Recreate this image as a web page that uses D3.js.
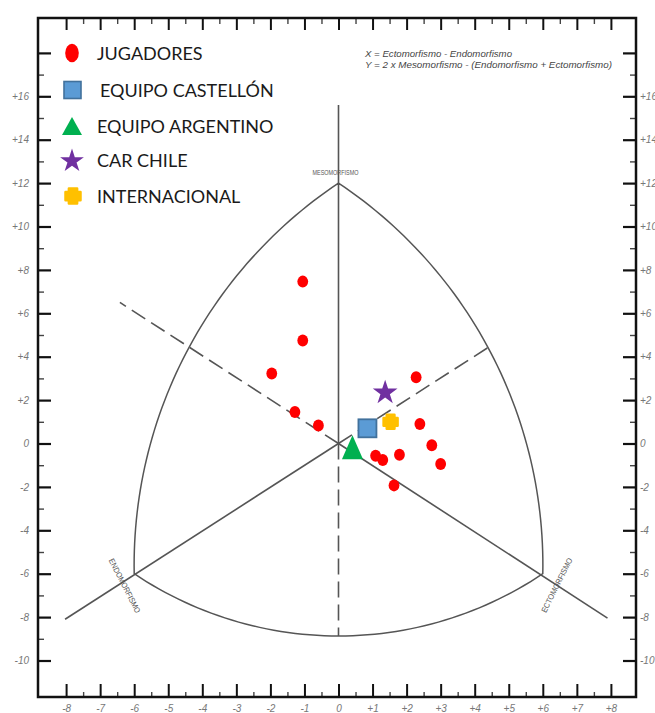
<!DOCTYPE html>
<html><head><meta charset="utf-8">
<script src="https://cdn.jsdelivr.net/npm/d3@7"></script>
<style>body{margin:0;background:#fff;overflow:hidden}</style>
</head><body>
<svg id="chart" width="655" height="713"></svg>
<script>
// ---------- data ----------
const jugadoresX = [-1.05, -1.05, -1.96, -1.28, -0.59, 2.28, 2.39, 2.74, 3.00, 1.79, 1.09, 1.30, 1.63];
const jugadoresY = [7.46, 4.75, 3.23, 1.45, 0.83, 3.05, 0.90, -0.08, -0.94, -0.52, -0.56, -0.76, -1.93];
const castellonX = [0.85], castellonY = [0.70];
const argentinoX = [0.41], argentinoY = [-0.36];
const carChileX = [1.37], carChileY = [2.39];
const internacionalX = [1.53], internacionalY = [1.00];
const legendLabels = ["JUGADORES", "EQUIPO CASTELLÓN", "EQUIPO ARGENTINO", "CAR CHILE", "INTERNACIONAL"];
const formulaLines = ["X = Ectomorfismo - Endomorfismo", "Y = 2 x Mesomorfismo - (Endomorfismo + Ectomorfismo)"];
const xMajorTicks = d3.range(-8, 8.01, 1);
const xMinorTicks = d3.range(-7.5, 7.51, 1);
const yMajorTicks = d3.range(-10, 18.01, 2);
const yMinorTicks = d3.range(-9, 17.01, 2);
const yLabelMax = 16;
// somatochart geometry (data units)
const mesoApex = [0, 12], endoCorner = [-6, -6], ectoCorner = [6, -6];
const sideArcPoint = 4.4;      // side arcs pass through (±4.4, 4.4)
const bottomArcLow = -8.87;    // lowest point of bottom arc
const verticalTop = 15.6;
const endoAxisStart = [-8.03, -8.1], endoAxisEnd = [4.37, 4.4];
const ectoAxisStart = [7.9, -8.05], ectoAxisEnd = [-6.42, 6.5];

// ---------- layout ----------
const W = 655, H = 713;
const frame = {l: 38, t: 18, r: 636, b: 697};
const x = d3.scaleLinear().domain([-8, 8]).range([66.1, 610.9]);
const y = d3.scaleLinear().domain([-10, 16]).range([660.5, 96.3]);
const svg = d3.select("#chart");
const lineCol = "#555";
const P = p => [x(p[0]), y(p[1])];

svg.append("rect").attr("width", W).attr("height", H).attr("fill", "#fff");

// ---------- axes ----------
const fmt = v => v > yLabelMax ? "" : (v > 0 ? "+" + v : String(v));
const tickFont = g => g.selectAll("text").attr("font-family", "Liberation Sans, Arial, sans-serif")
  .attr("font-style", "italic").attr("font-size", 10).attr("fill", "#777");
function styleAxis(g, w, col) {
  g.select(".domain").remove();
  g.selectAll("line").attr("stroke", col).attr("stroke-width", w);
}
svg.append("g").attr("transform", `translate(${frame.l},0)`)
  .call(d3.axisLeft(y).tickValues(yMajorTicks).tickSize(-13).tickPadding(9).tickFormat(fmt))
  .call(g => styleAxis(g, 2.2, "#111")).call(tickFont);
svg.append("g").attr("transform", `translate(${frame.l},0)`)
  .call(d3.axisLeft(y).tickValues(yMinorTicks).tickSize(-6).tickFormat(""))
  .call(g => styleAxis(g, 1.4, "#444"));
svg.append("g").attr("transform", `translate(${frame.r},0)`)
  .call(d3.axisRight(y).tickValues(yMajorTicks).tickSize(-13).tickPadding(4).tickFormat(fmt))
  .call(g => styleAxis(g, 2.2, "#111")).call(tickFont);
svg.append("g").attr("transform", `translate(${frame.r},0)`)
  .call(d3.axisRight(y).tickValues(yMinorTicks).tickSize(-6).tickFormat(""))
  .call(g => styleAxis(g, 1.4, "#444"));
svg.append("g").attr("transform", `translate(0,${frame.b})`)
  .call(d3.axisBottom(x).tickValues(xMajorTicks).tickSize(-13).tickPadding(8)
    .tickFormat(v => v > 0 ? "+" + v : String(v)))
  .call(g => styleAxis(g, 2, "#111")).call(tickFont);
svg.append("g").attr("transform", `translate(0,${frame.b})`)
  .call(d3.axisBottom(x).tickValues(xMinorTicks).tickSize(-5).tickFormat(""))
  .call(g => styleAxis(g, 1.4, "#444"));
svg.append("g").attr("transform", `translate(0,${frame.t})`)
  .call(d3.axisTop(x).tickValues(xMajorTicks).tickSize(-12).tickFormat(""))
  .call(g => styleAxis(g, 2, "#111"));
svg.append("g").attr("transform", `translate(0,${frame.t})`)
  .call(d3.axisTop(x).tickValues(xMinorTicks).tickSize(-6).tickFormat(""))
  .call(g => styleAxis(g, 1.4, "#444"));

svg.append("rect").attr("x", frame.l).attr("y", frame.t)
  .attr("width", frame.r - frame.l).attr("height", frame.b - frame.t)
  .attr("fill", "none").attr("stroke", "#111").attr("stroke-width", 2.5);

// ---------- somatochart outline ----------
function circle3(a, b, c) {
  const d = 2 * (a[0] * (b[1] - c[1]) + b[0] * (c[1] - a[1]) + c[0] * (a[1] - b[1]));
  const A = a[0] ** 2 + a[1] ** 2, B = b[0] ** 2 + b[1] ** 2, C = c[0] ** 2 + c[1] ** 2;
  const ux = (A * (b[1] - c[1]) + B * (c[1] - a[1]) + C * (a[1] - b[1])) / d;
  const uy = (A * (c[0] - b[0]) + B * (a[0] - c[0]) + C * (b[0] - a[0])) / d;
  return [ux, uy, Math.hypot(a[0] - ux, a[1] - uy)];
}
function arcPts(p1, pm, p2) {
  const [cx, cy, r] = circle3(p1, pm, p2);
  const a1 = Math.atan2(p1[1] - cy, p1[0] - cx);
  let d = Math.atan2(p2[1] - cy, p2[0] - cx) - a1;
  while (d > Math.PI) d -= 2 * Math.PI;
  while (d < -Math.PI) d += 2 * Math.PI;
  return d3.range(0, 61).map(i => [cx + r * Math.cos(a1 + d * i / 60), cy + r * Math.sin(a1 + d * i / 60)]);
}
const apexP = P(mesoApex), endoP = P(endoCorner), ectoP = P(ectoCorner);
const outline = [
  ...arcPts(apexP, P([-sideArcPoint, sideArcPoint]), endoP),
  ...arcPts(endoP, P([0, bottomArcLow]), ectoP),
  ...arcPts(ectoP, P([sideArcPoint, sideArcPoint]), apexP)
];
svg.append("path").attr("d", d3.line()(outline) + "Z")
  .attr("fill", "none").attr("stroke", lineCol).attr("stroke-width", 1.5);

const seg = (a, b, dashed) => svg.append("line")
  .attr("x1", x(a[0])).attr("y1", y(a[1])).attr("x2", x(b[0])).attr("y2", y(b[1]))
  .attr("stroke", lineCol).attr("stroke-width", 1.6)
  .attr("stroke-dasharray", dashed ? "16,7" : null);
seg([0, verticalTop], [0, 0], false);
seg([0, 0], [0, bottomArcLow], true);
seg(endoAxisStart, [0, 0], false);
seg([0, 0], endoAxisEnd, true);
seg(ectoAxisStart, [0, 0], false);
seg([0, 0], ectoAxisEnd, true);

// axis-name labels
const lab = (t, px, py, rot, len, fs) => svg.append("text")
  .attr("transform", `translate(${px},${py}) rotate(${rot})`)
  .attr("text-anchor", "middle").attr("dy", "0.35em")
  .attr("font-family", "Liberation Sans, Arial, sans-serif").attr("font-size", fs)
  .attr("fill", "#555").attr("textLength", len).attr("lengthAdjust", "spacingAndGlyphs").text(t);
lab("MESOMORFISMO", apexP[0] - 3, apexP[1] - 11, 0, 46, 7);
lab("ENDOMORFISMO", endoP[0] - 9.5, endoP[1] + 12, 62.8, 60, 8);
lab("ECTOMORFISMO", ectoP[0] + 14, ectoP[1] + 11.5, -63.4, 60, 8);

// ---------- marker shapes ----------
const triPath = (w, h) => `M0,${-2 * h / 3}L${w / 2},${h / 3}L${-w / 2},${h / 3}Z`;
function plusPath(a) {
  const b = a * 0.55;
  return `M${-b},${-a}L${b},${-a}L${b},${-b}L${a},${-b}L${a},${b}L${b},${b}L${b},${a}L${-b},${a}L${-b},${b}L${-a},${b}L${-a},${-b}L${-b},${-b}Z`;
}
const starPath = r => d3.symbol(d3.symbolStar, r * r / 0.8908130915292852)();
const colors = {red: "#FF0000", blue: "#5B9BD5", blueStroke: "#41719C", green: "#00B050", purple: "#7030A0", yellow: "#FFC000"};

// ---------- data marks ----------
svg.append("g").selectAll("ellipse").data(d3.zip(jugadoresX, jugadoresY)).join("ellipse")
  .attr("cx", d => x(d[0])).attr("cy", d => y(d[1])).attr("rx", 5.4).attr("ry", 6).attr("fill", colors.red);
svg.append("g").selectAll("path").data(d3.zip(argentinoX, argentinoY)).join("path")
  .attr("transform", d => `translate(${x(d[0])},${y(d[1])})`).attr("d", triPath(21, 24)).attr("fill", colors.green);
svg.append("g").selectAll("rect").data(d3.zip(castellonX, castellonY)).join("rect")
  .attr("x", d => x(d[0]) - 9).attr("y", d => y(d[1]) - 9).attr("width", 18).attr("height", 18)
  .attr("fill", colors.blue).attr("stroke", colors.blueStroke).attr("stroke-width", 1.8);
svg.append("g").selectAll("path").data(d3.zip(internacionalX, internacionalY)).join("path")
  .attr("transform", d => `translate(${x(d[0])},${y(d[1])})`).attr("d", plusPath(7))
  .attr("fill", colors.yellow).attr("stroke", colors.yellow).attr("stroke-width", 2.5).attr("stroke-linejoin", "round");
svg.append("g").selectAll("path").data(d3.zip(carChileX, carChileY)).join("path")
  .attr("transform", d => `translate(${x(d[0])},${y(d[1]) + 1})`).attr("d", starPath(13)).attr("fill", colors.purple);

// ---------- legend ----------
const legY = [53, 90, 126, 160, 196];
const lg = svg.append("g");
lg.append("ellipse").attr("cx", 72).attr("cy", legY[0]).attr("rx", 6.8).attr("ry", 9.2).attr("fill", colors.red);
lg.append("rect").attr("x", 64).attr("y", legY[1] - 8.5).attr("width", 17).attr("height", 17)
  .attr("fill", colors.blue).attr("stroke", colors.blueStroke).attr("stroke-width", 1.6);
lg.append("path").attr("transform", `translate(72,${legY[2] + 3})`).attr("d", triPath(20, 18)).attr("fill", colors.green);
lg.append("path").attr("transform", `translate(72,${legY[3] + 1})`).attr("d", starPath(12.5)).attr("fill", colors.purple);
lg.append("path").attr("transform", `translate(73,${legY[4]})`).attr("d", plusPath(7.5))
  .attr("fill", colors.yellow).attr("stroke", colors.yellow).attr("stroke-width", 2.5).attr("stroke-linejoin", "round");
lg.selectAll("text").data(legendLabels).join("text")
  .attr("x", (d, i) => i === 1 ? 100 : 97).attr("y", (d, i) => legY[i] + 6.5)
  .attr("font-family", "Lato, 'Open Sans', sans-serif").attr("font-size", 18).attr("fill", "#1a1a1a")
  .text(d => d);

// formula note
svg.selectAll(".formula").data(formulaLines).join("text").attr("class", "formula")
  .attr("x", 365).attr("y", (d, i) => 56.5 + i * 11.5)
  .attr("font-family", "Liberation Sans, Arial, sans-serif").attr("font-style", "italic")
  .attr("font-size", 8.5).attr("fill", "#444")
  .attr("textLength", (d, i) => i === 0 ? 147 : 247).attr("lengthAdjust", "spacingAndGlyphs")
  .text(d => d);
</script>
</body></html>
